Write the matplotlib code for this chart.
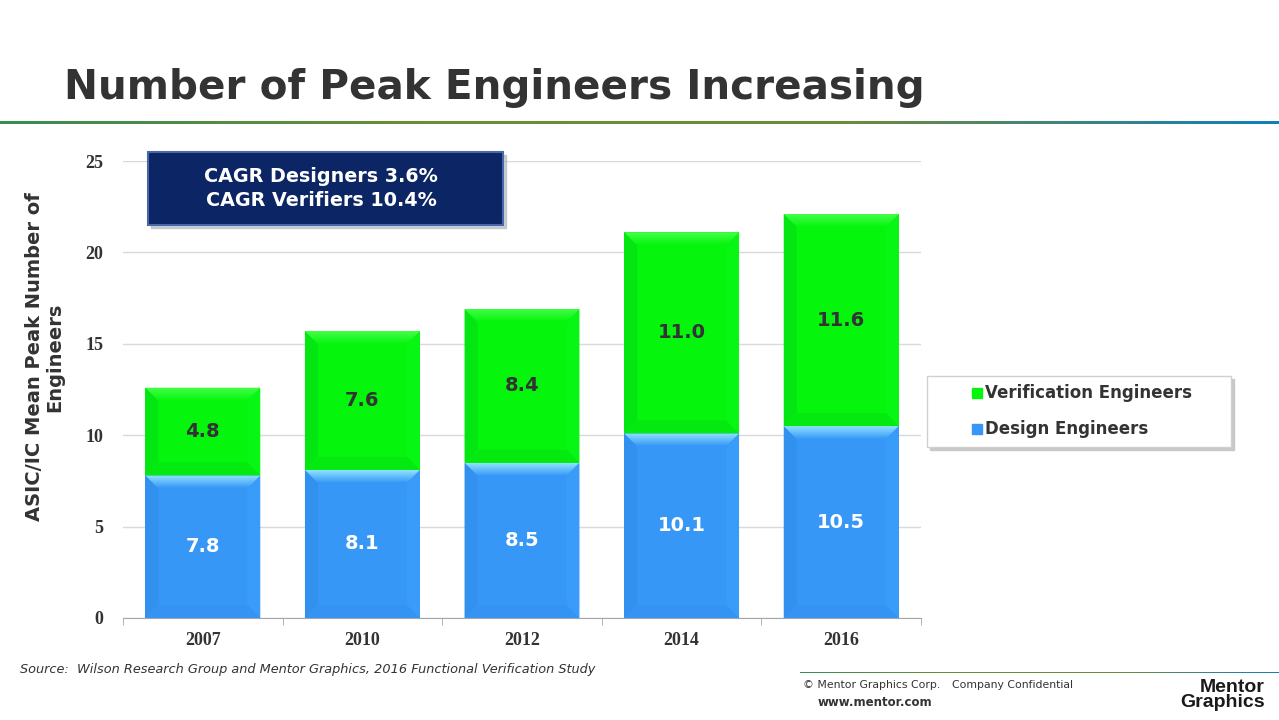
import matplotlib
matplotlib.use("Agg")
import matplotlib.pyplot as plt
import numpy as np
from matplotlib.patches import Polygon, Rectangle
from matplotlib.colors import LinearSegmentedColormap

years = ["2007", "2010", "2012", "2014", "2016"]
design = [7.8, 8.1, 8.5, 10.1, 10.5]
verification = [4.8, 7.6, 8.4, 11.0, 11.6]
series_names = ["Verification Engineers", "Design Engineers"]
yticks = [0, 5, 10, 15, 20, 25]
title = "Number of Peak Engineers Increasing"
ylabel = "ASIC/IC Mean Peak Number of\nEngineers"
cagr_text = "CAGR Designers 3.6%\nCAGR Verifiers 10.4%"
source = "Source:  Wilson Research Group and Mentor Graphics, 2016 Functional Verification Study"

GREEN = "#05F50D"
BLUE = "#3797F7"
DARK = "#333333"
SANS = "DejaVu Sans"

W, H = 1279, 720
fig = plt.figure(figsize=(W / 100, H / 100), dpi=100)
fig.patch.set_facecolor("white")

def fx(px):
    return px / W

def fy(py):
    return 1 - py / H

# Title
fig.text(fx(64), fy(88), title, fontsize=29.2, fontweight="bold", color=DARK,
         family=SANS, va="center", ha="left")

# Gradient header line
grad = LinearSegmentedColormap.from_list("hdr", ["#3A8C52", "#6A8E36", "#6E8A3C", "#1080BC"])
axl = fig.add_axes([0, fy(124), 1, 3 / H])
axl.imshow(np.linspace(0, 1, 256)[None, :], aspect="auto", cmap=grad, extent=[0, 1, 0, 1])
axl.axis("off")

# main axes
ax = fig.add_axes([fx(123), fy(618), fx(921) - fx(123), (618 - 161) / H])
x = np.arange(len(years))
bw = 0.72
b1 = ax.bar(x, design, bw, color=BLUE, zorder=2, linewidth=0)
b2 = ax.bar(x, verification, bw, bottom=design, color=GREEN, zorder=2, linewidth=0)
ax.set_ylim(0, 25)
ax.set_yticks(yticks)
ax.set_xticks(x)
ax.set_xticklabels(years)
ax.yaxis.grid(True, color="#D9D9D9", linewidth=1, zorder=0)
ax.set_axisbelow(True)
for s in ["top", "right", "left"]:
    ax.spines[s].set_visible(False)
ax.spines["bottom"].set_color("#A6A6A6")
ax.tick_params(axis="y", length=0, pad=14)
ax.set_xticks(np.arange(-0.5, len(years)), minor=True)
ax.tick_params(axis="x", which="major", length=0, pad=10)
ax.tick_params(axis="x", which="minor", length=5, color="#A6A6A6")
for lab in ax.get_xticklabels() + ax.get_yticklabels():
    lab.set_family("Liberation Serif")
    lab.set_fontweight("bold")
    lab.set_fontsize(13)
    lab.set_color(DARK)

fig.text(fx(45), fy(357), ylabel, fontsize=14, fontweight="bold", color=DARK, family=SANS,
         rotation=90, ha="center", va="center", multialignment="center", linespacing=1.1)

# bevel effect
xpp = (len(years)) / (921 - 123)
ypp = 25 / (618 - 161)
bx, by = 13 * xpp, 13 * ypp

def bevel(bar, top_cmap, left_c, right_c, bot_c):
    x0 = bar.get_x(); x1 = x0 + bar.get_width()
    y0 = bar.get_y(); y1 = y0 + bar.get_height()
    left = Polygon([(x0, y0), (x0, y1), (x0 + bx, y1 - by), (x0 + bx, y0 + by)],
                   closed=True, color=left_c, lw=0, zorder=3)
    right = Polygon([(x1, y0), (x1, y1), (x1 - bx, y1 - by), (x1 - bx, y0 + by)],
                    closed=True, color=right_c, lw=0, zorder=3)
    bot = Polygon([(x0, y0), (x1, y0), (x1 - bx, y0 + by), (x0 + bx, y0 + by)],
                  closed=True, color=bot_c, lw=0, zorder=3)
    for p in (left, right, bot):
        ax.add_patch(p)
    topp = Polygon([(x0, y1), (x1, y1), (x1 - bx, y1 - by), (x0 + bx, y1 - by)],
                   closed=True, facecolor="none", lw=0, zorder=3)
    ax.add_patch(topp)
    im = ax.imshow(np.linspace(1, 0, 64)[:, None], cmap=top_cmap, aspect="auto",
                   extent=[x0, x1, y1 - by, y1], zorder=3)
    im.set_clip_path(topp)

blue_top = LinearSegmentedColormap.from_list("bt", [BLUE, "#8FE3FF"])
green_top = LinearSegmentedColormap.from_list("gt", [GREEN, "#45FF4A"])
for bar in b1:
    bevel(bar, blue_top, "#3290EE", "#3A9CF9", "#3593F3")
for bar in b2:
    bevel(bar, green_top, "#04E612", "#08F614", "#04EA10")
ax.set_xlim(-0.5, len(years) - 0.5)
ax.set_ylim(0, 25)

# data labels
for i in x:
    ax.text(i, design[i] / 2, f"{design[i]:.1f}", ha="center", va="center",
            fontsize=14, fontweight="bold", color="white", family=SANS, zorder=5)
    ax.text(i, design[i] + verification[i] / 2, f"{verification[i]:.1f}", ha="center",
            va="center", fontsize=14, fontweight="bold", color=DARK, family=SANS, zorder=5)

# CAGR box
bw_px, bh_px = 503 - 148, 225 - 152
fig.patches.append(Rectangle((fx(151), fy(228)), bw_px / W, bh_px / H,
                             transform=fig.transFigure, color="#A9AEB8", alpha=0.6, zorder=1))
fig.patches.append(Rectangle((fx(148), fy(225)), bw_px / W, bh_px / H,
                             transform=fig.transFigure, facecolor="#0B2565",
                             edgecolor="#4A68A8", lw=1.5, zorder=2))
fig.text(fx(321), fy(188.5), cagr_text, ha="center", va="center", fontsize=13.8,
         fontweight="bold", color="white", family=SANS, linespacing=1.4, zorder=3)

# legend box
fig.patches.append(Rectangle((fx(930), fy(450)), fx(1231) - fx(927), (447 - 376) / H,
                             transform=fig.transFigure, color="#C8C8C8", zorder=1))
fig.patches.append(Rectangle((fx(927), fy(447)), fx(1231) - fx(927), (447 - 376) / H,
                             transform=fig.transFigure, facecolor="white",
                             edgecolor="#D0D0D0", lw=1, zorder=2))
for name, col, yy in [(series_names[0], GREEN, 393), (series_names[1], BLUE, 429)]:
    fig.patches.append(Rectangle((fx(972), fy(yy + 5)), 10 / W, 10 / H,
                                 transform=fig.transFigure, color=col, zorder=3))
    fig.text(fx(985), fy(yy), name, ha="left", va="center", fontsize=12,
             fontweight="bold", color=DARK, family=SANS, zorder=3)

# source
fig.text(fx(20), fy(670), source, ha="left", va="center", fontsize=9.3,
         style="italic", color=DARK, family=SANS)

# footer
axf = fig.add_axes([fx(800), fy(673), 1 - fx(800), 1.5 / H])
axf.imshow(np.linspace(0, 1, 256)[None, :], aspect="auto", cmap=grad, extent=[0, 1, 0, 1])
axf.axis("off")
fig.text(fx(803), fy(685), "\u00a9 Mentor Graphics Corp.", ha="left", va="center",
         fontsize=7.8, color="#333333", family=SANS)
fig.text(fx(952), fy(685), "Company Confidential", ha="left", va="center",
         fontsize=7.8, color="#333333", family=SANS)
fig.text(fx(818), fy(702), "www.mentor.com", ha="left", va="center", fontsize=8.5,
         fontweight="bold", color="#333333", family=SANS)
fig.text(fx(1265), fy(695), "Mentor\nGraphics", ha="right", va="center", fontsize=14,
         fontweight="heavy", color="#1A1A1A", family="Liberation Sans", linespacing=0.78,
         multialignment="right")

fig.savefig("out.png", dpi=100, facecolor="white")
